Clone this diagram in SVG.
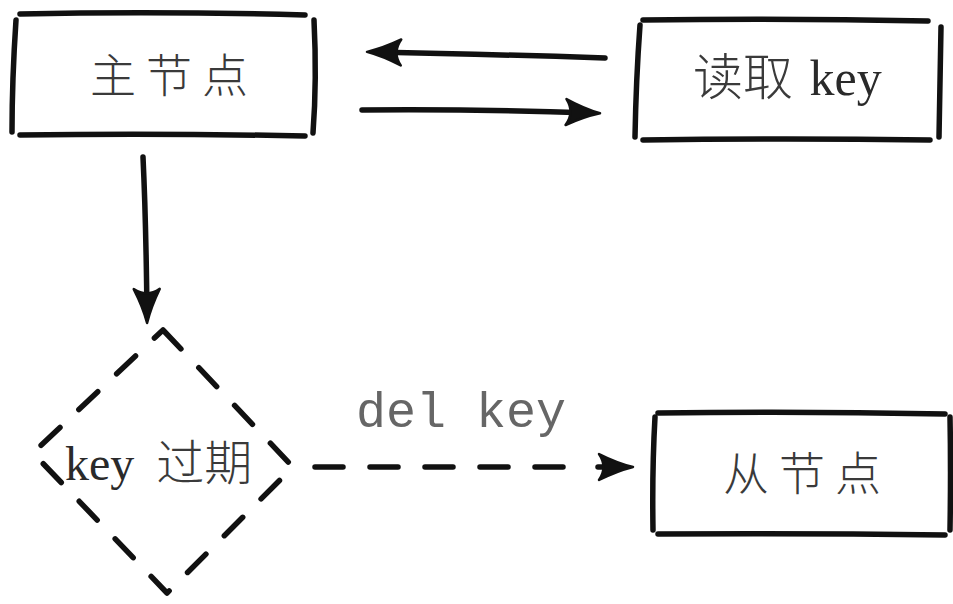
<svg xmlns="http://www.w3.org/2000/svg" width="953" height="604" viewBox="0 0 953 604">
<style>
.edge{fill:none;stroke:#111;stroke-width:5.5;stroke-linecap:round;stroke-linejoin:round}
.dash{stroke-dasharray:26 26}
.cjk{font-family:"Noto Sans CJK SC","Noto Sans",sans-serif;font-weight:300;fill:#3a3a3a}
.ser{font-family:"Liberation Serif","Noto Sans CJK SC",serif;fill:#2a2a2a}
.mono{font-family:"Liberation Mono",monospace;fill:#666}
</style>
<defs>
<marker id="ah" viewBox="-38 -16 40 32" markerWidth="40" markerHeight="32" refX="-8" refY="0" orient="auto" markerUnits="userSpaceOnUse">
<path d="M-34 -13 Q-16 -4 0 0 Q-16 4 -34 13 Q-25 0 -34 -13 Z" fill="#111" stroke="#111" stroke-width="2.5" stroke-linejoin="round"/>
</marker>
</defs>
<rect width="953" height="604" fill="#fff"/>
<g id="connectors">
<path class="edge" d="M605 58 Q480 54 375 52" marker-end="url(#ah)"/>
<path class="edge" d="M362 110 Q480 109 592 113" marker-end="url(#ah)"/>
<path class="edge" d="M143 157 Q146 220 147 315" marker-end="url(#ah)"/>
<path class="edge" d="M315 467 L565 467" style="stroke-dasharray:28 27"/>
<path class="edge" d="M598 467 L625 467" marker-end="url(#ah)"/>
<text class="mono" x="356" y="427" font-size="50">del key</text>
</g>
<g id="master">
<path class="edge" d="M20 14 Q160 11 305 15"/>
<path class="edge" d="M20 135 Q160 133 305 136"/>
<path class="edge" d="M16 20 Q12 80 12 132"/>
<path class="edge" d="M314 20 Q317 80 313 133"/>
<text class="cjk" x="90" y="92" font-size="46" letter-spacing="10">主节点</text>
</g>
<g id="read">
<path class="edge" d="M643 20 Q785 18 928 21"/>
<path class="edge" d="M643 140 Q785 138 930 140"/>
<path class="edge" d="M640 25 Q636 80 635 137"/>
<path class="edge" d="M941 27 Q940 80 939 137"/>
<text x="693" y="95" font-size="50"><tspan class="cjk">读取</tspan><tspan class="ser" dx="4"> key</tspan></text>
</g>
<g id="expire">
<path class="edge dash" d="M163 330 L293 467 L167 593 L33 453 Z"/>
<text x="65" y="480" font-size="48"><tspan class="ser">key</tspan><tspan class="cjk" dx="22">过期</tspan></text>
</g>
<g id="slave">
<path class="edge" d="M658 413 Q800 411 945 414"/>
<path class="edge" d="M658 534 Q800 533 945 535"/>
<path class="edge" d="M655 417 Q652 470 653 530"/>
<path class="edge" d="M950 417 Q951 470 950 530"/>
<text class="cjk" x="723" y="490" font-size="46" letter-spacing="10">从节点</text>
</g>
</svg>
